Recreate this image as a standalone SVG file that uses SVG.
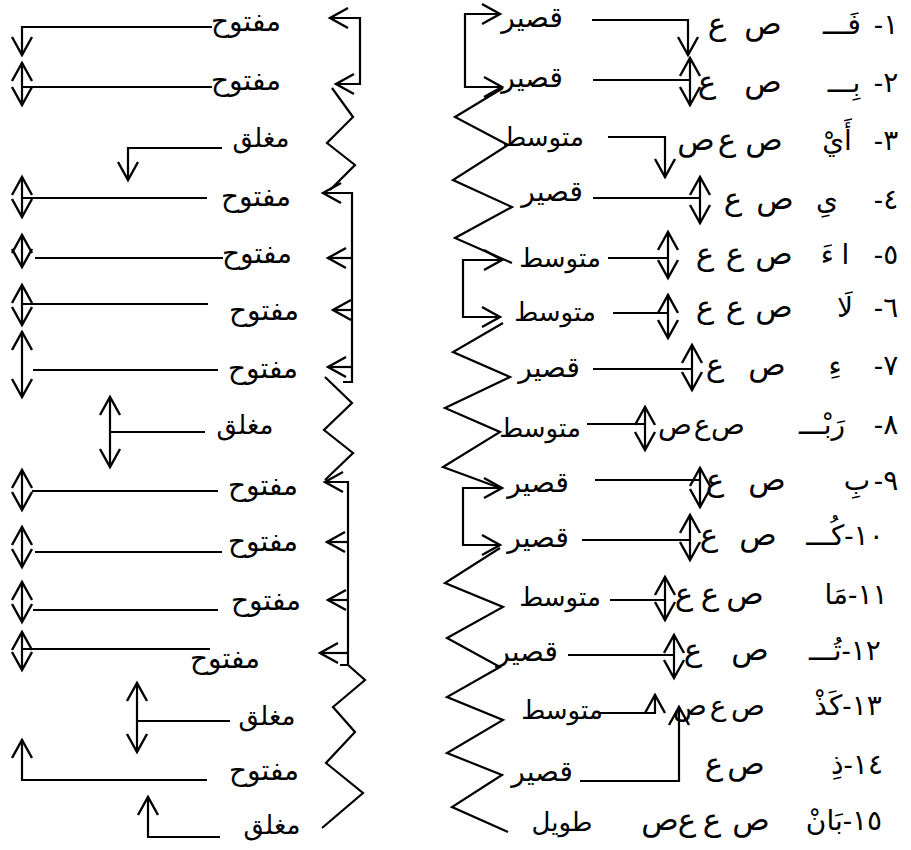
<svg xmlns="http://www.w3.org/2000/svg" width="911" height="850" viewBox="0 0 911 850">
<style>
text{font-family:"Liberation Sans","DejaVu Sans",sans-serif;font-size:28px;fill:#000;text-anchor:middle;direction:rtl}
text.g{font-size:31px}
text.h{font-size:28px}
text.m{font-size:26px}
.c path,.c line,.c polyline{fill:none;stroke:#000;stroke-width:2.2}
.a{marker-end:url(#ah)}
.d{marker-start:url(#ah);marker-end:url(#ah)}
.s{marker-start:url(#ah)}
</style>
<defs>
<marker id="ah" viewBox="-20 -12 24 24" markerWidth="24" markerHeight="24" refX="0" refY="0" orient="auto-start-reverse" markerUnits="userSpaceOnUse" overflow="visible">
<path d="M-18,-10 L0,0 L-18,10" fill="none" stroke="#000" stroke-width="2.4"/>
</marker>
</defs>
<rect width="911" height="850" fill="#fff"/>

<g id="row1"><text x="886" y="34">١-</text><text x="842" y="34">فَـــ</text><text class="g" x="763" y="34">ص</text><text class="g" x="717" y="34">ع</text><text x="532" y="27">قصير</text><text x="246" y="31">مفتوح</text></g>
<g id="row2"><text x="886" y="92">٢-</text><text x="844" y="92">بِـــ</text><text class="g" x="763" y="92">ص</text><text class="g" x="707" y="92">ع</text><text x="532" y="87">قصير</text><text x="246" y="90">مفتوح</text></g>
<g id="row3"><text x="886" y="150">٣-</text><text x="837" y="150">أَيْ</text><text class="g" x="764" y="150">ص</text><text class="g" x="727" y="150">ع</text><text class="g" x="696" y="150">ص</text><text class="m" x="543" y="146">متوسط</text><text class="m" x="261" y="147">مغلق</text></g>
<g id="row4"><text x="886" y="209">٤-</text><text x="827" y="209">ىِ</text><text class="g" x="775" y="209">ص</text><text class="g" x="733" y="209">ع</text><text x="552" y="201">قصير</text><text x="256" y="206">مفتوح</text></g>
<g id="row5"><text x="886" y="264">٥-</text><text x="835" y="264">ا ءَ</text><text class="g" x="774" y="264">ص</text><text class="g" x="735" y="264">ع</text><text class="g" x="705" y="264">ع</text><text class="m" x="560" y="267">متوسط</text><text x="257" y="263">مفتوح</text></g>
<g id="row6"><text x="886" y="317">٦-</text><text x="845" y="317">لَا</text><text class="g" x="774" y="317">ص</text><text class="g" x="735" y="317">ع</text><text class="g" x="705" y="317">ع</text><text class="m" x="555" y="321">متوسط</text><text x="264" y="320">مفتوح</text></g>
<g id="row7"><text x="886" y="375">٧-</text><text x="835" y="375">ءِ</text><text class="g" x="767" y="375">ص</text><text class="g" x="715" y="375">ع</text><text x="549" y="377">قصير</text><text x="263" y="378">مفتوح</text></g>
<g id="row8"><text x="886" y="434">٨-</text><text x="822" y="434">رَبْـــ</text><text class="h" x="728" y="434">ص</text><text class="h" x="702" y="434">ع</text><text class="h" x="675" y="434">ص</text><text class="m" x="540" y="437">متوسط</text><text class="m" x="245" y="434">مغلق</text></g>
<g id="row9"><text x="886" y="490">٩-</text><text x="857" y="490">بِ</text><text class="g" x="767" y="490">ص</text><text class="g" x="715" y="490">ع</text><text x="538" y="492">قصير</text><text x="263" y="495">مفتوح</text></g>
<g id="row10"><text x="845" y="545">١٠-كُـــ</text><text class="g" x="758" y="545">ص</text><text class="g" x="709" y="545">ع</text><text x="538" y="547">قصير</text><text x="263" y="551">مفتوح</text></g>
<g id="row11"><text x="856" y="604">١١-مَا</text><text class="g" x="745" y="604">ص</text><text class="g" x="710" y="604">ع</text><text class="g" x="684" y="604">ع</text><text class="m" x="560" y="606">متوسط</text><text x="266" y="610">مفتوح</text></g>
<g id="row12"><text x="845" y="660">١٢-تُـــ</text><text class="g" x="750" y="660">ص</text><text class="g" x="693" y="660">ع</text><text x="527" y="661">قصير</text><text x="225" y="668">مفتوح</text></g>
<g id="row13"><text x="848" y="715">١٣-كَذْ</text><text class="h" x="748" y="715">ص</text><text class="h" x="718" y="715">ع</text><text class="h" x="690" y="715">ص</text><text class="m" x="562" y="719">متوسط</text><text class="m" x="267" y="725">مغلق</text></g>
<g id="row14"><text x="857" y="774">١٤-ذِ</text><text class="g" x="746" y="774">ص</text><text class="g" x="714" y="774">ع</text><text x="542" y="781">قصير</text><text x="264" y="780">مفتوح</text></g>
<g id="row15"><text x="844" y="830">١٥-بَانْ</text><text class="g" x="751" y="830">ص</text><text class="g" x="712" y="830">ع</text><text class="g" x="687" y="830">ع</text><text class="g" x="660" y="830">ص</text><text class="m" x="562" y="831">طويل</text><text class="m" x="272" y="834">مغلق</text></g>

<g id="connectors" class="c">
<path class="a" d="M592,20 H688 V55"/>
<line x1="593" y1="80" x2="690" y2="80"/><line class="d" x1="690" y1="58" x2="690" y2="105"/>
<path class="a" d="M608,137 H665 V177"/>
<line x1="593" y1="198" x2="700" y2="198"/><line class="d" x1="700" y1="177" x2="700" y2="223"/>
<line x1="608" y1="258" x2="668" y2="258"/><line class="d" x1="668" y1="232" x2="668" y2="278"/>
<line x1="613" y1="313" x2="668" y2="313"/><line class="d" x1="668" y1="295" x2="668" y2="338"/>
<line x1="593" y1="369" x2="692" y2="369"/><line class="d" x1="692" y1="345" x2="692" y2="390"/>
<line x1="587" y1="424" x2="645" y2="424"/><line class="d" x1="645" y1="407" x2="645" y2="450"/>
<line x1="595" y1="480" x2="700" y2="480"/><line class="d" x1="700" y1="468" x2="700" y2="507"/>
<line x1="582" y1="540" x2="690" y2="540"/><line class="d" x1="690" y1="515" x2="690" y2="560"/>
<line x1="610" y1="600" x2="665" y2="600"/><line class="d" x1="665" y1="577" x2="665" y2="620"/>
<line x1="568" y1="655" x2="674" y2="655"/><line class="d" x1="674" y1="635" x2="674" y2="678"/>
<path class="a" d="M600,713 H655 V695"/>
<path class="a" d="M580,781 H679 V707"/>
<path class="d" d="M500,14 H465 V87 H502"/>
<polyline points="503,88 455,117 508,145 453,180 512,207 455,238 512,263"/>
<path class="d" d="M502,260 H463 V317 H500"/>
<polyline points="503,323 453,352 510,377 445,408 500,432 443,467 500,488"/>
<path class="d" d="M502,488 H463 V545 H500"/>
<polyline points="500,548 445,583 503,607 447,638 500,667 447,697 503,720 447,753 502,775 452,807 508,832"/>
<path class="d" d="M330,18 H360 V84 H336"/>
<polyline points="332,88 353,117 327,143 355,165 330,190"/>
<path class="s" d="M323,193 H352 V382 H343"/>
<line class="a" x1="352" y1="258" x2="328" y2="258"/>
<line class="a" x1="352" y1="310" x2="333" y2="310"/>
<line class="a" x1="352" y1="367" x2="328" y2="367"/>
<polyline points="325,377 352,403 324,430 353,453 325,480"/>
<path class="s" d="M325,482 H348 V665 H340"/>
<line class="a" x1="348" y1="542" x2="327" y2="542"/>
<line class="a" x1="348" y1="600" x2="328" y2="600"/>
<line class="a" x1="348" y1="653" x2="320" y2="653"/>
<polyline points="348,665 365,680 333,707 355,732 326,763 363,793 322,828"/>
<path class="a" d="M212,27 H22 V55"/>
<line x1="212" y1="87" x2="22" y2="87"/><line class="d" x1="22" y1="63" x2="22" y2="105"/>
<path class="a" d="M222,148 H128 V180"/>
<line x1="207" y1="198" x2="22" y2="198"/><line class="d" x1="22" y1="177" x2="22" y2="217"/>
<line x1="223" y1="258" x2="35" y2="258"/><line class="d" x1="22" y1="235" x2="22" y2="267"/>
<line x1="208" y1="304" x2="22" y2="304"/><line class="d" x1="22" y1="285" x2="22" y2="325"/>
<line x1="218" y1="370" x2="33" y2="370"/><line class="d" x1="22" y1="332" x2="22" y2="397"/>
<line x1="205" y1="432" x2="110" y2="432"/><line class="d" x1="110" y1="397" x2="110" y2="467"/>
<line x1="218" y1="491" x2="32" y2="491"/><line class="d" x1="22" y1="470" x2="22" y2="510"/>
<line x1="222" y1="552" x2="35" y2="552"/><line class="d" x1="22" y1="527" x2="22" y2="567"/>
<line x1="218" y1="610" x2="33" y2="610"/><line class="d" x1="22" y1="582" x2="22" y2="622"/>
<line x1="210" y1="649" x2="22" y2="649"/><line class="d" x1="22" y1="632" x2="22" y2="670"/>
<line x1="230" y1="721" x2="137" y2="721"/><line class="d" x1="137" y1="683" x2="137" y2="752"/>
<path class="a" d="M207,780 H22 V740"/>
<path class="a" d="M220,837 H148 V797"/>
</g>
</svg>
